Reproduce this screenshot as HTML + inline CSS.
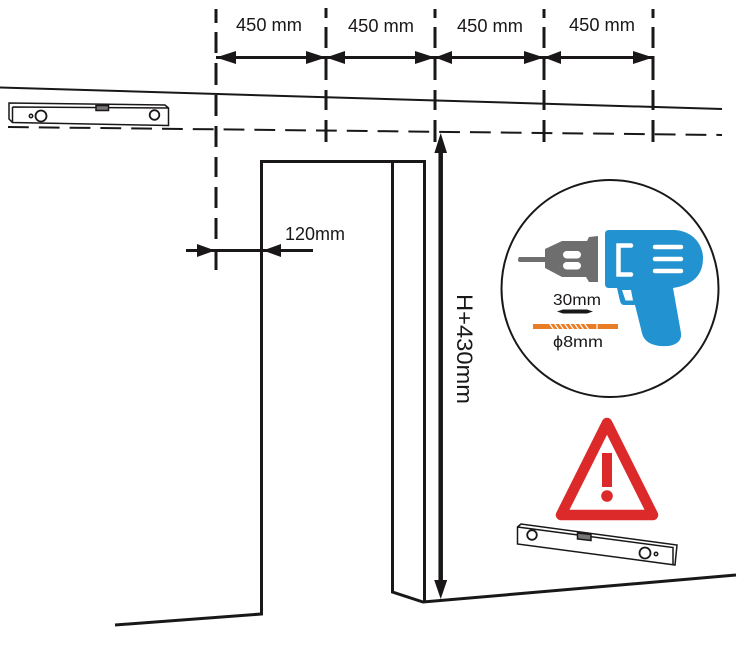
<!DOCTYPE html>
<html><head><meta charset="utf-8"><style>html,body{margin:0;padding:0;background:#fff}svg{display:block}text{font-family:"Liberation Sans",sans-serif;fill:#1a1718}</style></head><body>
<svg width="739" height="646" viewBox="0 0 739 646" xmlns="http://www.w3.org/2000/svg">
<rect width="739" height="646" fill="#fff"/>
<!-- vertical dashed -->
<g stroke="#1a1718" stroke-width="3" fill="none">
<path d="M216 9V23M216 32V53M216 63V85M216 95V116M216 126V147M216 157V177M216 187V208M216 218V239M216 249V270"/>
<path d="M326 8V18M326 27V48M326 56V80M326 90V110M326 120V142"/>
<path d="M435 9V18M435 27V48M435 56V80M435 90V110M435 120V142"/>
<path d="M544 9V18M544 27V48M544 56V80M544 90V110M544 120V142"/>
<path d="M653 9V18M653 27V48M653 56V80M653 90V110M653 120V142"/>
</g>
<!-- sloped lines -->
<path d="M0 87.500L722 109" stroke="#1a1718" stroke-width="2" fill="none"/>
<path d="M8 127L722 135" stroke="#1a1718" stroke-width="2" fill="none" stroke-dasharray="20.800 10"/>
<!-- dimension arrows -->
<g stroke="#1a1718" stroke-width="3"><path d="M216 57.500H653"/><path d="M186 250.500H313"/></g>
<g fill="#1a1718">
<path d="M216 57.500l20-6.500v13zM326 57.500l-20-6.500v13zM326 57.500l19-6.500v13zM435 57.500l-20-6.500v13zM435 57.500l17-6.500v13zM544 57.500l-20-6.500v13zM544 57.500l17-6.500v13zM653 57.500l-20-6.500v13z"/>
<path d="M215 250.500l-18-6.500v13zM263 250.500l18-6.500v13z"/>
<path d="M440.700 133l6.300 20h-12.600zM440.700 599l6.500-19h-13z"/>
</g>
<path d="M440.700 150V584" stroke="#1a1718" stroke-width="4.500"/>
<!-- door -->
<g stroke="#1a1718" stroke-width="3" fill="none">
<path d="M115 625L261.500 614V161.500H424.500V602"/>
<path d="M392.500 161.500V592L423 602L736 575"/>
</g>
<!-- labels -->
<g font-size="18">
<text x="236" y="31" textLength="66" lengthAdjust="spacingAndGlyphs">450 mm</text>
<text x="348" y="32" textLength="66" lengthAdjust="spacingAndGlyphs">450 mm</text>
<text x="457" y="32" textLength="66" lengthAdjust="spacingAndGlyphs">450 mm</text>
<text x="569" y="31" textLength="66" lengthAdjust="spacingAndGlyphs">450 mm</text>
<text x="285" y="240" textLength="60" lengthAdjust="spacingAndGlyphs">120mm</text>
</g>
<text transform="translate(457 294) rotate(90)" font-size="22" textLength="110" lengthAdjust="spacingAndGlyphs">H+430mm</text>
<!-- top level -->
<g stroke="#1a1718" fill="none" stroke-width="1.500">
<path d="M9 103L165 105L168.500 108V125.500L12.500 122.500L9 119ZM12.500 107L168.500 108M12.500 107V122.500"/>
<rect x="96" y="105.500" width="12.500" height="5" fill="#777"/>
<circle cx="41" cy="116" r="5.500" stroke-width="1.800"/><circle cx="154.500" cy="115" r="4.800" stroke-width="1.800"/><circle cx="31" cy="116" r="1.700"/>
</g>
<!-- drill circle -->
<circle cx="610" cy="288.500" r="108.500" fill="#fff" stroke="#1a1718" stroke-width="2"/>
<path d="M519 257H545V262H519Q517 260 519 257Z" fill="#6e6e6e"/>
<path d="M545 249L562 241H587L589 237L598 236V282L589 282L586 277H562L545 268Z" fill="#6e6e6e"/>
<rect x="563" y="251" width="18" height="7.500" rx="3.700" fill="#fff"/><rect x="563" y="262" width="18" height="7.500" rx="3.700" fill="#fff"/>
<path d="M609 230H673C692 230 703 244 703 258C703 276 692 285 673 288L681 333C682 341 676 345 668 346C655 347 644 343 642 333L635 305H624Q621 305 620 301L617 288H609Q605 288 605 284V234Q605 230 609 230Z" fill="#2292d0"/>
<path d="M622 290L625.500 300.500H633L631 290Z" fill="#fff"/>
<path d="M631 245.500H618.500V274.500H631" fill="none" stroke="#fff" stroke-width="4.500" stroke-linecap="round"/>
<g stroke="#fff" stroke-width="4.500" stroke-linecap="round"><path d="M655 247H681M655 259H681M655 271H681"/></g>
<text x="553" y="305" font-size="16" textLength="48" lengthAdjust="spacingAndGlyphs" fill="#111">30mm</text>
<path d="M557 311.500L563 309.500H587L593 311.500L587 313.500H563Z" fill="#1a1718"/>
<rect x="533" y="324" width="85" height="5" fill="#e97d26"/>
<path d="M549 323l5 7M554 323l5 7M559 323l5 7M564 323l5 7M569 323l5 7M574 323l5 7M579 323l5 7M584 323l5 7M597 323v7" stroke="#fff" stroke-width="1.200"/>
<text x="553" y="347" font-size="16" textLength="50" lengthAdjust="spacingAndGlyphs" fill="#111" style="font-family:'Liberation Sans','DejaVu Sans',sans-serif">ϕ8mm</text>
<!-- warning triangle -->
<path d="M607 423L561 515H653Z" fill="#fff" stroke="#dc2a2a" stroke-width="10.500" stroke-linejoin="round"/>
<rect x="602" y="453" width="10" height="34" fill="#dc2a2a"/><circle cx="607" cy="496" r="5.800" fill="#dc2a2a"/>
<!-- bottom level -->
<g stroke="#1a1718" fill="none" stroke-width="1.500">
<path d="M517.500 527L521 524L677 545L675 565L517.500 544ZM517.500 527L673 547.500V565"/>
<path d="M577.500 533L591 534.500V540.500L577.500 539Z" fill="#777"/>
<circle cx="532" cy="535" r="4.800" stroke-width="1.800"/><circle cx="645" cy="553" r="5.500" stroke-width="1.800"/><circle cx="656" cy="554" r="1.700"/>
</g>
</svg>
</body></html>
